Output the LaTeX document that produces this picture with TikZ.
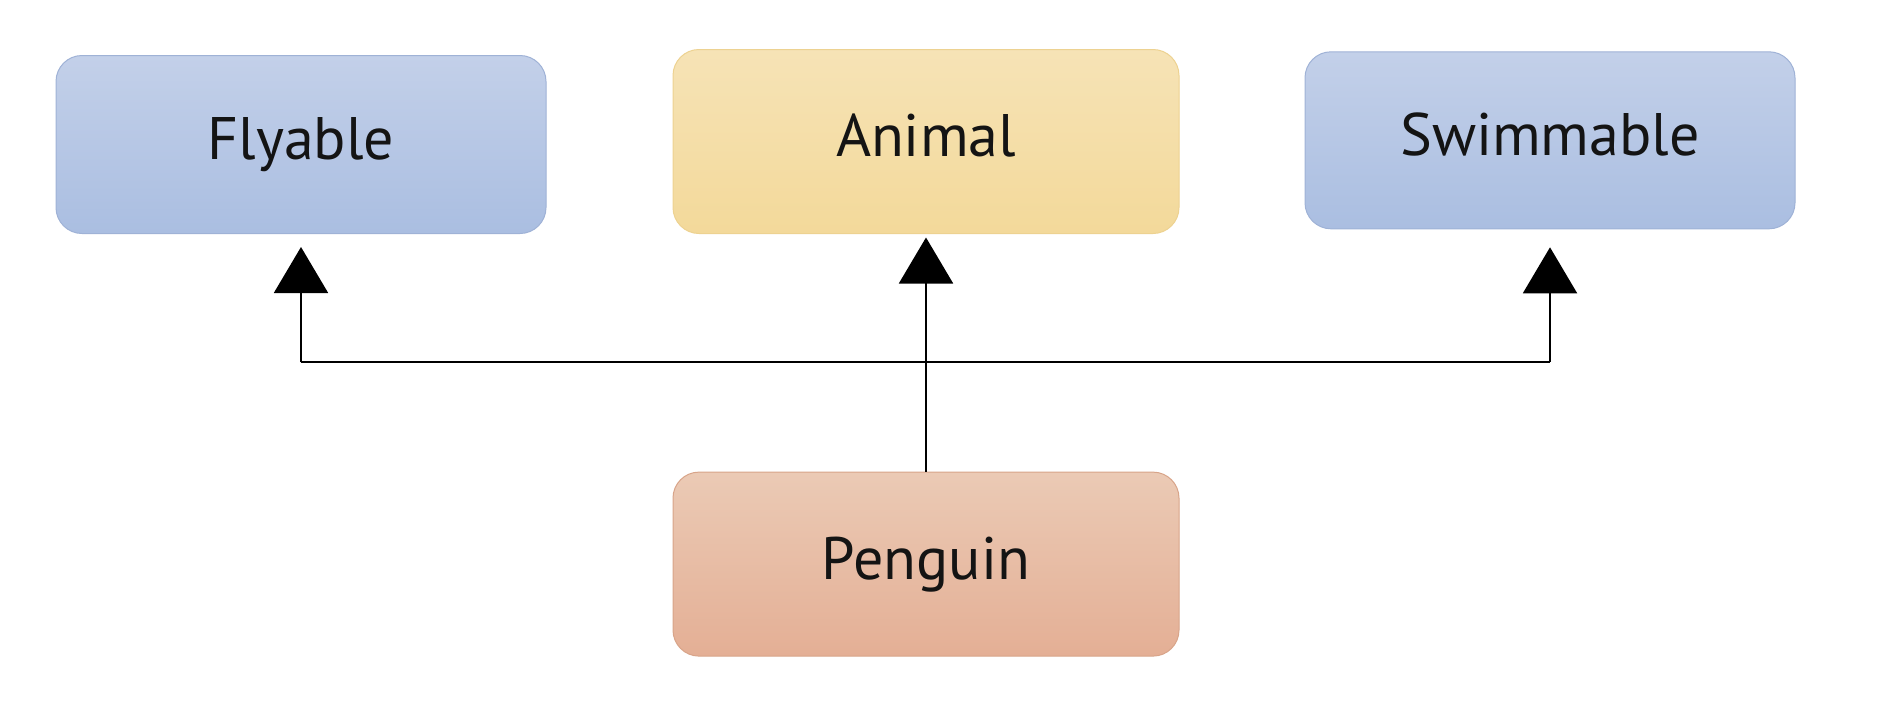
\documentclass[tikz,border=0pt]{standalone}
\usepackage{fontspec}
\setmainfont{PT Sans}
\usetikzlibrary{arrows.meta}
\definecolor{blueTop}{HTML}{C3D0E9}
\definecolor{blueBot}{HTML}{AABEE1}
\definecolor{blueEdge}{HTML}{9FB2D6}
\definecolor{yelTop}{HTML}{F6E3B6}
\definecolor{yelBot}{HTML}{F3D99A}
\definecolor{yelEdge}{HTML}{EDD291}
\definecolor{orgTop}{HTML}{EBCAB5}
\definecolor{orgBot}{HTML}{E4AF95}
\definecolor{orgEdge}{HTML}{D8A489}
\tikzset{
  box/.style={rounded corners=26pt, inner sep=0pt, line width=1pt,
    font=\fontsize{60}{68}\selectfont, text=black!92,
    text height=30pt, text depth=0pt},
  bluebox/.style={box, draw=blueEdge, top color=blueTop, bottom color=blueBot},
  yelbox/.style={box, draw=yelEdge, top color=yelTop, bottom color=yelBot},
  orgbox/.style={box, draw=orgEdge, top color=orgTop, bottom color=orgBot},
  conn/.style={line width=2pt, black},
  arr/.style={conn, -{Triangle[width=54pt,length=46pt]}},
}
\begin{document}
\begin{tikzpicture}[x=1pt,y=1pt]
\useasboundingbox (0,0) rectangle (1888,-718);
\node[bluebox, minimum width=490pt, minimum height=178pt] (fly) at (301,-144.5) {Flyable};
\node[yelbox, minimum width=506pt, minimum height=184pt] (anim) at (926,-141.5) {Animal};
\node[bluebox, minimum width=490pt, minimum height=177pt] (swim) at (1550,-140.3) {Swimmable};
\node[orgbox, minimum width=506pt, minimum height=184pt] (peng) at (926,-564.1) {Penguin};
\coordinate (jy) at (0,-362.4);
\coordinate (jL) at (fly.south |- jy);
\coordinate (jR) at (swim.south |- jy);
\draw[conn] (jL) -- (jR);
\draw[arr, shorten >=13pt] (jL) -- (fly.south);
\draw[arr, shorten >=18pt] (jR) -- (swim.south);
\draw[arr, shorten >=3.5pt] (peng.north) -- (anim.south);
\end{tikzpicture}
\end{document}
